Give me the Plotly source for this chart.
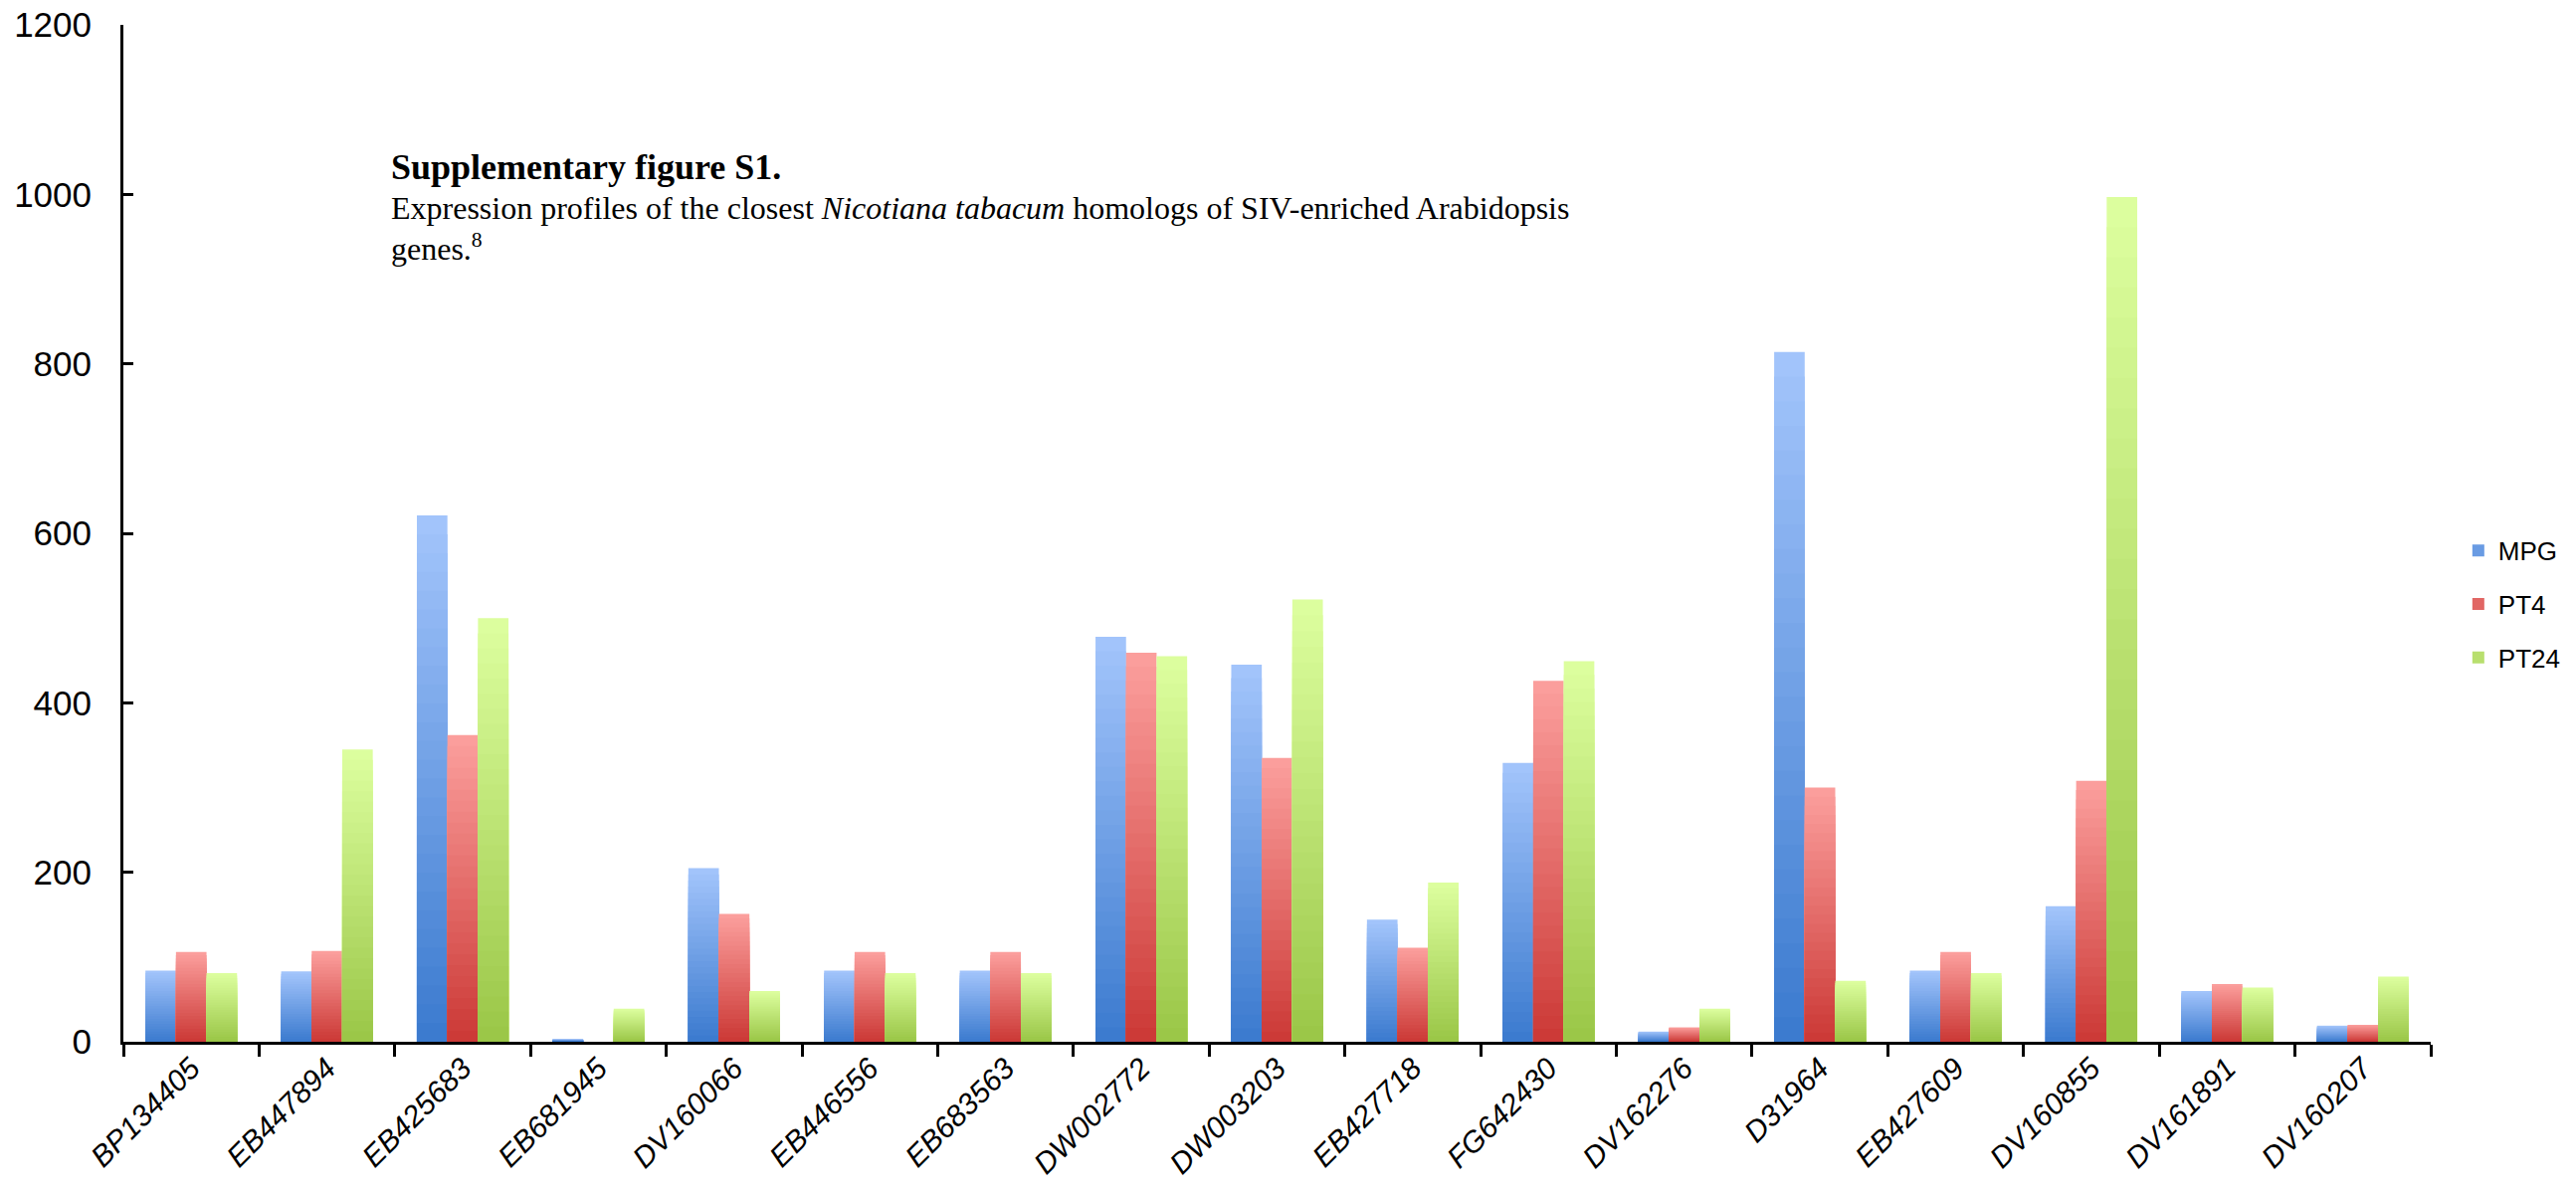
import plotly.graph_objects as go

# Gene accessions on the x axis
genes = ["BP134405", "EB447894", "EB425683", "EB681945", "DV160066", "EB446556",
         "EB683563", "DW002772", "DW003203", "EB427718", "FG642430", "DV162276",
         "D31964", "EB427609", "DV160855", "DV161891", "DV160207"]

# Expression values per sample
mpg = [84, 83, 621, 3, 205, 84, 84, 478, 445, 144, 329, 12, 814, 84, 160, 60, 19]
pt4 = [106, 107, 362, 0, 151, 106, 106, 459, 335, 111, 426, 17, 300, 106, 308, 68, 20]
pt24 = [81, 345, 500, 39, 60, 81, 81, 455, 522, 188, 449, 39, 72, 81, 997, 64, 77]

y_ticks = [0, 200, 400, 600, 800, 1000, 1200]

series = [
    ("MPG", mpg, (162, 196, 251), (60, 123, 207)),
    ("PT4", pt4, (251, 158, 156), (204, 58, 55)),
    ("PT24", pt24, (220, 254, 158), (155, 199, 72)),
]

BAR_W = 0.225
STEPS = 28  # layers used to shade each bar from light top to dark bottom


def mix(c1, c2, t):
    return "rgb({},{},{})".format(*[round(a + (b - a) * t) for a, b in zip(c1, c2)])


fig = go.Figure()
for s_idx, (name, vals, top_c, bot_c) in enumerate(series):
    offset = -1.5 * BAR_W + s_idx * BAR_W
    legend_step = int(STEPS * 0.55)
    for k in range(STEPS):
        frac = 1 - k / STEPS
        fig.add_trace(go.Bar(
            x=genes,
            y=[v * frac for v in vals],
            name=name,
            legendgroup=name,
            showlegend=(k == legend_step),
            marker=dict(color=mix(top_c, bot_c, k / (STEPS - 1)), line=dict(width=0)),
            offset=offset,
            width=BAR_W,
            hoverinfo="skip" if k else "x+y+name",
        ))

fig.update_layout(
    barmode="overlay",
    width=2589,
    height=1200,
    paper_bgcolor="white",
    plot_bgcolor="white",
    margin=dict(l=124, r=146, t=25, b=153, autoexpand=False),
    font=dict(family="Liberation Sans, Arial, Helvetica, sans-serif", color="black"),
    legend=dict(
        x=1.012, y=0.506, xanchor="left", yanchor="top",
        font=dict(size=26, family="Liberation Sans, Arial, sans-serif"),
        traceorder="grouped", tracegroupgap=17,
        bgcolor="rgba(0,0,0,0)",
    ),
    xaxis=dict(
        type="category",
        range=[-0.5, len(genes) - 0.5],
        tickvals=genes,
        ticktext=["<i>" + g + "</i>" for g in genes],
        showline=True, linecolor="black", linewidth=3,
        ticks="outside", tickson="boundaries", ticklen=12, tickwidth=3, tickcolor="black",
        tickangle=-45,
        ticklabelstandoff=-6,
        tickfont=dict(size=30, family="Liberation Sans, Arial, sans-serif"),
        showgrid=False, zeroline=False, automargin=False,
    ),
    yaxis=dict(
        range=[0, 1200],
        tickvals=y_ticks,
        showline=True, linecolor="black", linewidth=3,
        ticks="inside", ticklen=10, tickwidth=3, tickcolor="black",
        ticklabelstandoff=22,
        tickfont=dict(size=35, family="Liberation Sans, Arial, sans-serif"),
        showgrid=False, zeroline=False, automargin=False,
    ),
    annotations=[dict(
        xref="paper", yref="paper", x=0.115, y=0.882,
        xanchor="left", yanchor="top", align="left", showarrow=False,
        font=dict(family="Liberation Serif, Times New Roman, serif", size=31, color="black"),
        text=("<span style='font-size:36px'><b>Supplementary figure S1.</b></span><br>"
              "<span style='font-size:32px'>Expression profiles of the closest <i>Nicotiana tabacum</i> "
              "homologs of SIV-enriched Arabidopsis</span><br>"
              "<span style='font-size:32px'>genes.</span><sup>8</sup>"),
    )],
)

fig.write_html("out.html")
